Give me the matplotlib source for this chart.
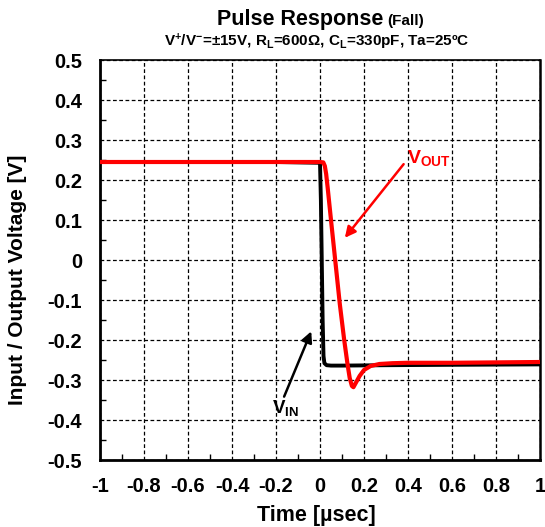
import matplotlib
matplotlib.use("Agg")
import matplotlib.pyplot as plt
import numpy as np
from matplotlib.ticker import MultipleLocator

plt.rcParams['font.family'] = ['Liberation Sans', 'DejaVu Sans']
plt.rcParams['font.weight'] = 'bold'
plt.rcParams['mathtext.fontset'] = 'custom'
plt.rcParams['mathtext.rm'] = 'Liberation Sans:bold'
plt.rcParams['mathtext.bf'] = 'Liberation Sans:bold'
plt.rcParams['mathtext.default'] = 'bf'

# Data (time in usec, voltage in V)
t_in = [-1.0, -0.2, 0.0, 0.004, 0.008, 0.012, 0.016, 0.02, 0.03, 0.05, 0.1, 0.3, 0.6, 1.0]
v_in = [0.245, 0.245, 0.243, 0.15, 0.0, -0.15, -0.24, -0.258, -0.263, -0.264, -0.264, -0.263, -0.262, -0.261]

t_out = [-1.0, -0.2, 0.0, 0.015, 0.022, 0.028, 0.035, 0.05, 0.07, 0.09, 0.11, 0.125, 0.135, 0.145, 0.152,
         0.165, 0.18, 0.2, 0.23, 0.27, 0.33, 0.4, 0.6, 0.8, 1.0]
v_out = [0.245, 0.245, 0.245, 0.244, 0.235, 0.215, 0.18, 0.1, -0.005, -0.11, -0.2, -0.26, -0.295, -0.315, -0.318,
         -0.305, -0.29, -0.275, -0.265, -0.26, -0.258, -0.257, -0.257, -0.256, -0.255]

xticks = [-1, -0.8, -0.6, -0.4, -0.2, 0, 0.2, 0.4, 0.6, 0.8, 1]
yticks = [-0.5, -0.4, -0.3, -0.2, -0.1, 0, 0.1, 0.2, 0.3, 0.4, 0.5]

fig = plt.figure(figsize=(5.45, 5.27), dpi=100)
ax = fig.add_axes([100/545, 1-460/527, 440/545, 400/527])

ax.plot(t_in, v_in, color='black', lw=2.8, zorder=3)
ax.plot(t_out, v_out, color='#ff0000', lw=3.0, zorder=4)

ax.set_xlim(-1, 1)
ax.set_ylim(-0.5, 0.5)
ax.set_xticks(xticks)
ax.set_yticks(yticks)
ax.set_xticklabels([f"{v:g}" for v in xticks])
ax.set_yticklabels([f"{v:g}" for v in yticks])
ax.xaxis.set_minor_locator(MultipleLocator(0.1))
ax.yaxis.set_minor_locator(MultipleLocator(0.05))
ax.tick_params(which='major', length=0, labelsize=14.5)
ax.tick_params(axis='x', which='major', pad=12)
ax.tick_params(axis='y', which='major', pad=13)
ax.tick_params(which='minor', direction='in', length=4, width=1, top=False, right=False)
ax.grid(True, which='major', color='black', linestyle=(0, (3, 2)), linewidth=0.9)
for s in ax.spines.values():
    s.set_linewidth(1.2)
ax.spines['left'].set_linewidth(2)
ax.spines['bottom'].set_linewidth(2)
ax.spines['right'].set_linewidth(1.8)

ax.set_xlabel('Time [µsec]', fontsize=15.5, fontweight='bold')
ax.set_ylabel('Input / Output Voltage [V]', fontsize=15, fontweight='bold', va='center', ha='center')
ax.xaxis.set_label_coords(0.491, -0.112)
ax.yaxis.set_label_coords(-0.187, 0.45)

fig.text(383/545, 1-20/527, 'Pulse Response', ha='right', va='center', fontsize=15.5, fontweight='bold')
fig.text(387/545, 1-21/527, '(Fall)', ha='left', va='center', fontsize=11, fontweight='bold')
fig.text(317/545, 1-42/527, r'V$^{+}$/V$^{-}$=±15V, R$_{L}$=600Ω, C$_{L}$=330pF, Ta=25ºC',
         ha='center', va='center', fontsize=11, fontweight='bold')

ax.annotate('', xy=(0.105, 0.05), xytext=(0.388, 0.245),
            xycoords='data', textcoords='data',
            arrowprops=dict(arrowstyle='-|>', color='#ff0000', lw=1.8, mutation_scale=16))
ax.text(0.395, 0.255, r'V$_{OUT}$', color='#ff0000', fontsize=14, fontweight='bold', ha='left', va='center')

ax.annotate('', xy=(-0.035, -0.172), xytext=(-0.168, -0.348),
            xycoords='data', textcoords='data',
            arrowprops=dict(arrowstyle='-|>', color='black', lw=1.8, mutation_scale=16))
ax.text(-0.22, -0.37, r'V$_{IN}$', color='black', fontsize=13.5, fontweight='bold', ha='left', va='center')

fig.savefig('out.png', dpi=100)
